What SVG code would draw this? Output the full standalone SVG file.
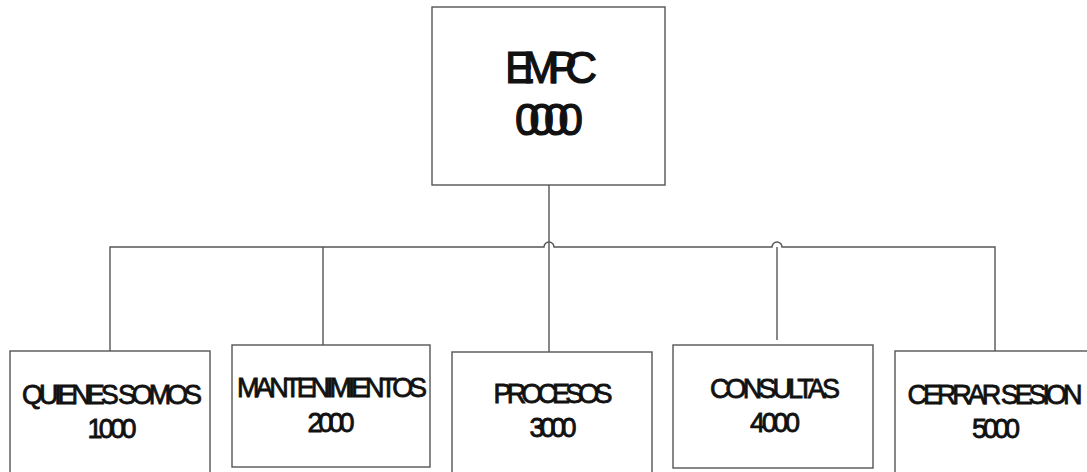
<svg xmlns="http://www.w3.org/2000/svg" width="1087" height="472" viewBox="0 0 1087 472">
<style>
.box{fill:#ffffff;stroke:#555555;stroke-width:1.4}
.line{fill:none;stroke:#555555;stroke-width:1.4}
.t{font-family:"Liberation Sans",Arial,sans-serif;fill:#111111;stroke:#111111;text-anchor:middle}
.big{font-size:44px;stroke-width:1.2}
.sm{font-size:27px;stroke-width:0.8}
</style>
<rect width="1087" height="472" fill="#ffffff"/>
<g id="connectors">
<line class="line" x1="549" y1="185" x2="549" y2="352"/>
<path class="line" d="M110 351 V247 H544 A5 5 0 0 1 554 247 H772 A5 5 0 0 1 782 247 H995 V351"/>
<line class="line" x1="323" y1="247" x2="323" y2="345"/>
<line class="line" x1="777" y1="247" x2="777" y2="340"/>
</g>
<g id="n0000">
<rect class="box" x="432" y="7" width="233" height="178"/>
<text class="t big" x="551" y="83" textLength="92" lengthAdjust="spacing">EMPC</text>
<text class="t big" x="549" y="135" textLength="68" lengthAdjust="spacing">0000</text>
</g>
<g id="n1000">
<rect class="box" x="10" y="351" width="200" height="130"/>
<text class="t sm" x="112" y="404" textLength="180" lengthAdjust="spacing">QUIENES SOMOS</text>
<text class="t sm" x="112" y="438" textLength="49" lengthAdjust="spacing">1000</text>
</g>
<g id="n2000">
<rect class="box" x="232" y="345" width="198" height="122"/>
<text class="t sm" x="332" y="397" textLength="190" lengthAdjust="spacing">MANTENIMIENTOS</text>
<text class="t sm" x="331" y="432" textLength="47" lengthAdjust="spacing">2000</text>
</g>
<g id="n3000">
<rect class="box" x="452" y="352" width="200" height="130"/>
<text class="t sm" x="553" y="403" textLength="119" lengthAdjust="spacing">PROCESOS</text>
<text class="t sm" x="553" y="437" textLength="47" lengthAdjust="spacing">3000</text>
</g>
<g id="n4000">
<rect class="box" x="673" y="345" width="200" height="123"/>
<text class="t sm" x="775" y="398" textLength="130" lengthAdjust="spacing">CONSULTAS</text>
<text class="t sm" x="775" y="432" textLength="50" lengthAdjust="spacing">4000</text>
</g>
<g id="n5000">
<rect class="box" x="895" y="351" width="210" height="130"/>
<text class="t sm" x="995" y="404" textLength="175" lengthAdjust="spacing">CERRAR SESION</text>
<text class="t sm" x="996" y="438" textLength="48" lengthAdjust="spacing">5000</text>
</g>
</svg>
